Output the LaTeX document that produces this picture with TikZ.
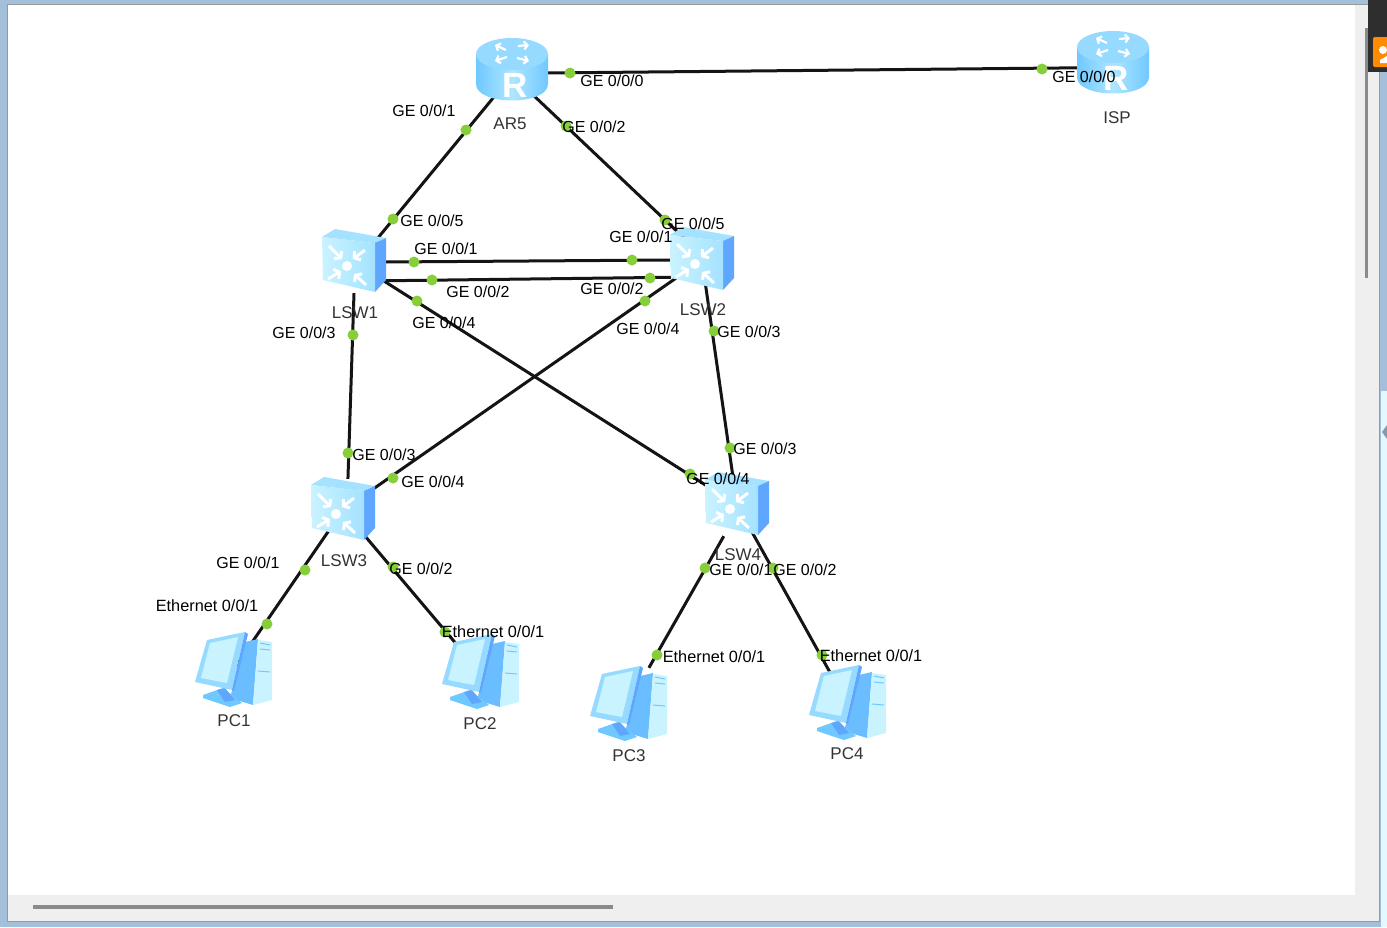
\documentclass[tikz,border=0pt]{standalone}
\usepackage{fontspec}
\setmainfont{Liberation Sans}
\usetikzlibrary{positioning, calc, arrows.meta}
\definecolor{cFrame}{HTML}{A3BFD9}
\definecolor{cPane}{HTML}{EFEFEF}
\definecolor{cThumb}{HTML}{8A8A8A}
\definecolor{cDot}{HTML}{86CF3A}
\definecolor{cBody}{HTML}{6FC8FF}
\definecolor{cBodyLight}{HTML}{96DBFF}
\definecolor{cBodyDark}{HTML}{5FA6FF}
\definecolor{cPale}{HTML}{C9F3FF}
\tikzset{
  link/.style={line width=3pt, draw=black!92},
  portdot/.style={circle, fill=cDot, inner sep=0pt, minimum size=11pt},
  portlabel/.style={font=\fontsize{16}{16}\selectfont, text=black, inner sep=0pt},
  devlabel/.style={font=\fontsize{17}{17}\selectfont, text=black!80, inner sep=0pt},
  devbox/.style={inner sep=0pt, minimum width=#1, minimum height=#1},
  iconarrow/.style={white, line width=2.2pt, -{Straight Barb[length=3.5pt, width=8pt]}},
  router/.pic={
    \path[left color=cBody, right color=cBody, middle color=cPale!70!cBody] (-36,-16) -- (-36,14) .. controls (-36,36) and (36,36) .. (36,14) -- (36,-16) -- cycle;
    \path[fill=cBodyLight] (0,-16) ellipse[x radius=36, y radius=16];
    \foreach \ax/\ay/\bx/\by in {-6/-20/-17/-25, 6/-24/17/-25, -5/-13/-17/-9, 5/-12/17/-9}
      \draw[iconarrow] (\ax,\ay) -- (\bx,\by);
    \node[text=white, inner sep=0pt, font=\fontsize{35}{35}\selectfont\bfseries] (-router) at (3,15) {R};
  },
  switchicon/.pic={
    \path[fill=cBodyLight!70!cPale] (-32,-25) -- (-19,-33) -- (32,-24) -- (21,-19) -- cycle;
    \path[fill=cBodyDark] (21,-19) -- (32,-24) -- (32,18) -- (21,30) -- cycle;
    \path[left color=cPale, right color=cBody!40!cPale] (-32,-25) -- (21,-19) -- (21,30) -- (-31,18) -- cycle;
    \path[fill=white] (-7,4) circle[radius=5];
    \foreach \ax/\ay/\bx/\by in {-25/-16/-12/-3, 11/-12/-1/-3, -26/17/-13/9, 12/23/0/12}
      \draw[white, line width=3pt, -{Straight Barb[length=4pt, width=11pt]}] (\ax,\ay) -- (\bx,\by);
  },
  pcicon/.pic={
    \path[fill=cBody!70!cBodyDark] (12,-28) -- (25,-31) -- (20,35) -- (-3,28) -- cycle;
    \path[fill=cPale] (25,-30) -- (39,-28) -- (39,30) -- (20,35) -- cycle;
    \draw[cBody, line width=1pt] (27,-27) -- (37,-25) (27,-21) -- (37,-20) (25,1) -- (37,2);
    \path[fill=cBody] (-30,25) -- (-10,18) -- (9,33) -- (-3,37) -- (-30,28) -- cycle;
    \path[fill=cBodyDark] (-16,20) -- (-8,18) -- (2,30) -- (-8,32) -- cycle;
    \path[fill=cBodyLight] (-38,12) -- (-26,-30) -- (12,-38) -- (-1,20) -- cycle;
    \path[fill=cBodyDark] (12,-38) -- (15,-36) -- (1,21) -- (-1,20) -- cycle;
    \path[fill=cPale] (-32,8) -- (-23,-27) -- (5,-33) -- (-6,13) -- cycle;
  },
}
\begin{document}
\begin{tikzpicture}[x=1pt, y=-1pt, line join=round]
        % window
        \useasboundingbox (0, 0) rectangle (1387, 927);
        \fill[cFrame] (0, 0) rectangle (1387, 927);
        \fill[cPane, draw=black!40, line width=0.8pt] (7, 4) rectangle (1379, 921);
        \fill[white] (8, 5) rectangle (1355, 895);
        \fill[cThumb] (33, 905) rectangle (613, 909);
        \fill[cThumb] (1365, 28) rectangle (1368, 278);
        \fill[cPale!50!white] (1381, 391) rectangle (1387, 927);
        \fill[cFrame!80!black] (1387, 425) -- (1382, 432) -- (1387, 439) -- cycle;
        \fill[black!82] (1368, 0) rectangle (1387, 72);
        \fill[orange!90!yellow, rounded corners=2pt] (1373, 37) rectangle (1390, 67);
        \fill[white] (1383, 50) circle[radius=4];
        \fill[white] (1380, 63) -- (1380, 60) -- (1387, 56) -- (1387, 63) -- cycle;
        % devices
        \foreach \name/\x/\y/\boxwd in {AR5/512/70/68, ISP/1113/63/68, LSW1/354/262/62, LSW2/702/260/62,
                                     LSW3/343/510/62, LSW4/737/505/62, PC1/233/670/72, PC2/480/672/72,
                                     PC3/628/704/72, PC4/847/703/72}{
          \node[devbox=\boxwd] (\name) at (\x, \y) {};
        }
        \coordinate (AR5in) at ($(AR5)+(0,5)$);
        \coordinate (LSW1in) at ($(LSW1)+(0,5)$);
        \coordinate (LSW2in) at ($(LSW2)+(0,-5)$);
        % links
        \foreach \from/\to in {AR5.-5/ISP.188, AR5in/LSW1in, AR5in/LSW2in, LSW1.east/LSW2.west, LSW1.-31/LSW2.209,
                               LSW1.center/LSW4.center, LSW2.center/LSW3.center, LSW1.south/LSW3.81,
                               LSW2.center/LSW4.center, LSW3.center/PC1.center, LSW3.center/PC2.center,
                               LSW4.247/PC3.60, LSW4.center/PC4.center}{
          \draw[link] (\from) -- (\to);
        }
        % icons on top of the links
        \foreach \name in {AR5, ISP}{
          \pic at (\name) {router};
        }
        \foreach \name in {LSW1, LSW2, LSW3, LSW4}{
          \pic at (\name) {switchicon};
        }
        \foreach \name in {PC1, PC2, PC3, PC4}{
          \pic at (\name) {pcicon};
        }
        % ports
        \foreach \x/\y [count=\i] in {570/73, 1042/69, 466/130, 393/219, 566/126, 665/220, 414/262, 632/260,
                                      432/280, 650/278, 417/301, 690/474, 645/301, 393/478, 353/335, 348/453,
                                      714/331, 730/448, 305/570, 267/624, 393/567, 445/632, 705/568, 657/655,
                                      773/568, 822/655}{
          \node[portdot] (port\i) at (\x, \y) {};
        }
        % port labels
        \foreach \x/\y/\txt [count=\i] in {
            612/81/GE 0\slash0\slash0, 1084/77/GE 0\slash0\slash0, 424/111/GE 0\slash0\slash1, 594/127/GE 0\slash0\slash2,
            432/221/GE 0\slash0\slash5, 693/224/GE 0\slash0\slash5, 446/249/GE 0\slash0\slash1, 641/237/GE 0\slash0\slash1,
            478/292/GE 0\slash0\slash2, 612/289/GE 0\slash0\slash2, 444/323/GE 0\slash0\slash4, 648/329/GE 0\slash0\slash4,
            304/333/GE 0\slash0\slash3, 749/332/GE 0\slash0\slash3, 384/455/GE 0\slash0\slash3, 765/449/GE 0\slash0\slash3,
            433/482/GE 0\slash0\slash4, 718/479/GE 0\slash0\slash4, 248/563/GE 0\slash0\slash1, 421/569/GE 0\slash0\slash2,
            741/570/GE 0\slash0\slash1, 805/570/GE 0\slash0\slash2}{
          \node[portlabel] (lbl\i) at (\x, \y) {\txt};
        }
        \foreach \x/\y/\txt [count=\i] in {207/606/Ethernet 0\slash0\slash1, 493/632/Ethernet 0\slash0\slash1,
                                           714/657/Ethernet 0\slash0\slash1, 871/656/Ethernet 0\slash0\slash1}{
          \node[portlabel, font=\fontsize{16.3}{16}\selectfont] (eth\i) at (\x, \y) {\txt};
        }
        % device labels
        \foreach \x/\y/\txt in {510/124/AR5, 1117/118/ISP, 355/313/LSW1, 703/310/LSW2, 344/561/LSW3,
                                738/555/LSW4, 234/721/PC1, 480/724/PC2, 629/756/PC3, 847/754/PC4}{
          \node[devlabel] (name\txt) at (\x, \y) {\txt};
        }
      \end{tikzpicture}
\end{document}
